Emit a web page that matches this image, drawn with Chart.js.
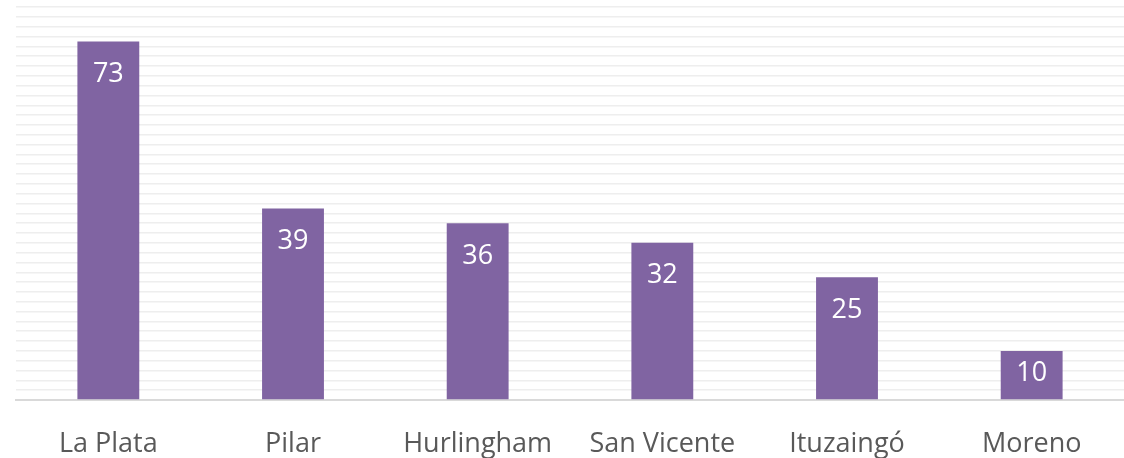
<!DOCTYPE html>
<html>
<head>
<meta charset="utf-8">
<script src="https://cdn.jsdelivr.net/npm/chart.js@4.4.0/dist/chart.umd.min.js"></script>
<style>
  html, body { margin: 0; padding: 0; background: #ffffff; }
  #wrap { width: 1124px; height: 458px; }
</style>
</head>
<body>
<div id="wrap"><canvas id="c" width="1124" height="458"></canvas></div>
<script>
const categories = ["La Plata", "Pilar", "Hurlingham", "San Vicente", "Ituzaingó", "Moreno"];
const values = [73, 39, 36, 32, 25, 10];
const yMax = 80;
const yStep = 2;

const insideEndLabels = {
  id: 'insideEndLabels',
  afterDatasetsDraw(chart) {
    const ctx = chart.ctx;
    const meta = chart.getDatasetMeta(0);
    ctx.save();
    ctx.fillStyle = '#ffffff';
    ctx.font = '27px "Open Sans"';
    ctx.textAlign = 'center';
    ctx.textBaseline = 'middle';
    meta.data.forEach((bar, i) => {
      const h = bar.base - bar.y;
      const off = Math.min(33, h / 2 - 2);
      ctx.fillText(String(values[i]), bar.x, bar.y + off);
    });
    ctx.restore();
  }
};

new Chart(document.getElementById('c'), {
  type: 'bar',
  data: {
    labels: categories,
    datasets: [{
      data: values,
      backgroundColor: '#8064a2',
      borderWidth: 0,
      barPercentage: 0.335,
      categoryPercentage: 1.0
    }]
  },
  options: {
    responsive: false,
    animation: false,
    devicePixelRatio: 1,
    layout: { padding: { left: 16, right: 0, top: 7, bottom: 0 } },
    plugins: { legend: { display: false }, tooltip: { enabled: false } },
    scales: {
      x: {
        grid: { display: false, drawTicks: false },
        border: { display: true, color: '#d9d9d9', width: 2 },
        ticks: {
          color: '#595959',
          font: { family: '"Open Sans"', size: 27 },
          padding: 28,
          maxRotation: 0,
          autoSkip: false
        },
        afterFit(scale) { scale.height = 58; }
      },
      y: {
        min: 0,
        max: yMax,
        display: true,
        ticks: { display: false, stepSize: yStep },
        grid: { color: '#eeeeee', lineWidth: 1.5, drawTicks: false },
        border: { display: false }
      }
    }
  },
  plugins: [insideEndLabels]
});
</script>
</body>
</html>
